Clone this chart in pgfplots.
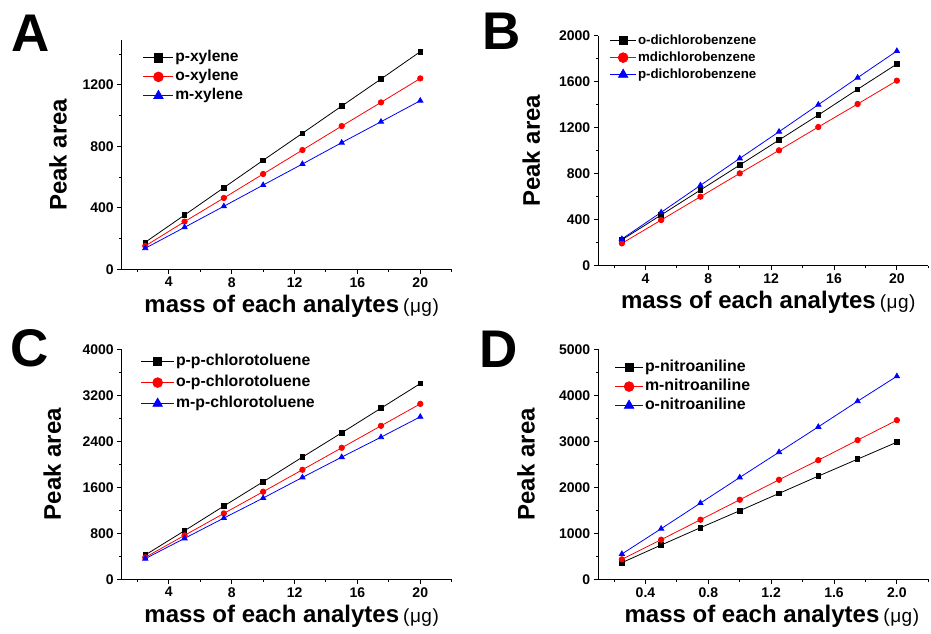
\documentclass[border=0pt]{standalone}
\usepackage{fontspec}
\setmainfont{Liberation Sans}
\usepackage{pgfplots}
\pgfplotsset{compat=1.18}

\newcommand{\xlab}{\fontsize{24}{24}\selectfont\bfseries mass of each analytes\,{\fontsize{19}{19}\selectfont\mdseries(\kern0.5ptμ\kern0.5ptg\kern0.5pt)}}
\newcommand{\ylab}{\fontsize{24}{24}\selectfont\bfseries Peak area}

\pgfplotsset{
  panel/.style={
    scale only axis, width=330pt, height=230pt,
    axis x line*=bottom, axis y line*=left,
    axis line style={line width=1.3pt},
    tick style={line width=1pt, black},
    tick align=outside,
    major tick length=4.5pt, minor tick length=2.5pt,
    scaled ticks=false,
    tick label style={font=\fontsize{14}{14}\selectfont\bfseries},
    /pgf/number format/assume math mode=true,
    /pgf/number format/1000 sep={},
    xmin=1, xmax=22, xtick={4,8,12,16,20}, minor xtick={2,6,10,14,18,22},
    xlabel={\xlab}, ylabel={\ylab},
    every axis x label/.style={at={(axis description cs:0.515,-0.16)}, anchor=center},
    legend cell align=left,
    legend style={draw=none, fill=none, anchor=north west, row sep=2pt,
      nodes={inner sep=1.5pt, text height=11pt, text depth=3pt}},
  },
  leglen/.style={legend image code/.code={
    \draw[mark repeat=2,mark phase=2,mark options={solid,scale=1.8}] plot coordinates {(0pt,0pt) (#1/2,0pt) (#1,0pt)};}},
  sq/.style={black, line width=0.8pt, mark=square*, mark size=2.3pt, mark options={solid}},
  ci/.style={red, line width=0.8pt, mark=*, mark size=2.7pt, mark options={solid}},
  tr/.style={blue, line width=0.8pt, mark=triangle*, mark size=3pt, mark options={solid}},
}
\newcommand{\panellabel}[1]{\fontsize{53}{53}\selectfont\bfseries #1}

\begin{document}
\begin{tikzpicture}
\useasboundingbox (0,0) rectangle (931pt,634pt);

% A: xylenes
\begin{axis}[panel, at={(121.7pt,364.7pt)}, anchor=south west, height=229pt,
  ymin=0, ymax=1490, ytick={0,400,800,1200}, minor ytick={200,600,1000,1400},
  leglen=30pt,
  legend style={at={(axis description cs:0.055,0.97)}, font=\fontsize{15.6}{15.6}\selectfont\bfseries},
  every axis y label/.style={at={(axis description cs:-0.193,0.5)}, rotate=90, anchor=center}]
\addplot[sq] coordinates {(2.5,176) (5,353) (7.5,531) (10,709) (12.5,885) (15,1062) (17.5,1238) (20,1416)};
\addplot[ci] coordinates {(2.5,152) (5,310) (7.5,464) (10,620) (12.5,776) (15,932) (17.5,1086) (20,1242)};
\addplot[tr] coordinates {(2.5,137) (5,273) (7.5,410) (10,548) (12.5,685) (15,824) (17.5,960) (20,1097)};
\legend{p-xylene, o-xylene, m-xylene}
\end{axis}

% B: dichlorobenzenes
\begin{axis}[panel, at={(598.3pt,368.3pt)}, anchor=south west,
  ymin=0, ymax=2000, ytick={0,400,...,2000}, minor ytick={200,600,...,1800},
  leglen=26pt,
  legend style={at={(axis description cs:0.025,1.025)}, font=\fontsize{13.3}{13.3}\selectfont\bfseries,
    row sep=0pt},
  every axis y label/.style={at={(axis description cs:-0.203,0.5)}, rotate=90, anchor=center}]
\addplot[sq] coordinates {(2.5,225) (5,441) (7.5,658) (10,875) (12.5,1093) (15,1310) (17.5,1534) (20,1754)};
\addplot[ci] coordinates {(2.5,194) (5,397) (7.5,600) (10,803) (12.5,1003) (15,1206) (17.5,1406) (20,1609)};
\addplot[tr] coordinates {(2.5,232) (5,464) (7.5,699) (10,933) (12.5,1165) (15,1400) (17.5,1635) (20,1867)};
\legend{o-dichlorobenzene, mdichlorobenzene, p-dichlorobenzene}
\end{axis}

% C: chlorotoluenes
\begin{axis}[panel, at={(121.7pt,54.7pt)}, anchor=south west,
  ymin=0, ymax=4000, ytick={0,800,...,4000}, minor ytick={400,1200,...,3600},
  leglen=33pt,
  legend style={at={(axis description cs:0.048,0.993)}, font=\fontsize{15.8}{15.8}\selectfont\bfseries,
    row sep=4pt},
  every axis y label/.style={at={(axis description cs:-0.21,0.5)}, rotate=90, anchor=center}]
\addplot[sq] coordinates {(2.5,423) (5,845) (7.5,1274) (10,1696) (12.5,2125) (15,2547) (17.5,2976) (20,3404)};
\addplot[ci] coordinates {(2.5,382) (5,764) (7.5,1146) (10,1523) (12.5,1905) (15,2287) (17.5,2669) (20,3051)};
\addplot[tr] coordinates {(2.5,359) (5,712) (7.5,1065) (10,1413) (12.5,1772) (15,2125) (17.5,2472) (20,2826)};
\legend{p-p-chlorotoluene, o-p-chlorotoluene, m-p-chlorotoluene}
\end{axis}

% D: nitroanilines
\begin{axis}[panel, at={(598.3pt,54.7pt)}, anchor=south west,
  xmin=0.1, xmax=2.2, xtick={0.4,0.8,1.2,1.6,2.0}, minor xtick={0.2,0.6,1.0,1.4,1.8,2.2},
  xticklabel style={/pgf/number format/.cd, fixed, fixed zerofill, precision=1},
  ymin=0, ymax=5000, ytick={0,1000,...,5000}, minor ytick={500,1500,...,4500},
  leglen=28pt,
  legend style={at={(axis description cs:0.04,0.967)}, font=\fontsize{15.9}{15.9}\selectfont\bfseries},
  every axis y label/.style={at={(axis description cs:-0.219,0.5)}, rotate=90, anchor=center},
  every axis x label/.style={at={(axis description cs:0.526,-0.16)}, anchor=center}]
\addplot[sq] coordinates {(0.25,362) (0.5,745) (0.75,1122) (1,1491) (1.25,1867) (1.5,2243) (1.75,2612) (2,2981)};
\addplot[ci] coordinates {(0.25,434) (0.5,861) (0.75,1295) (1,1729) (1.25,2164) (1.5,2590) (1.75,3025) (2,3459)};
\addplot[tr] coordinates {(0.25,550) (0.5,1100) (0.75,1657) (1,2214) (1.25,2764) (1.5,3314) (1.75,3871) (2,4414)};
\legend{p-nitroaniline, m-nitroaniline, o-nitroaniline}
\end{axis}

\node[anchor=base west, inner sep=0pt] at (11.7pt,582.3pt) {\panellabel{A}};
\node[anchor=base west, inner sep=0pt] at (481.8pt,584pt) {\panellabel{B}};
\node[anchor=base west, inner sep=0pt] at (10.7pt,267pt) {\panellabel{C}};
\node[anchor=base west, inner sep=0pt] at (479.4pt,266pt) {\panellabel{D}};
\end{tikzpicture}
\end{document}
